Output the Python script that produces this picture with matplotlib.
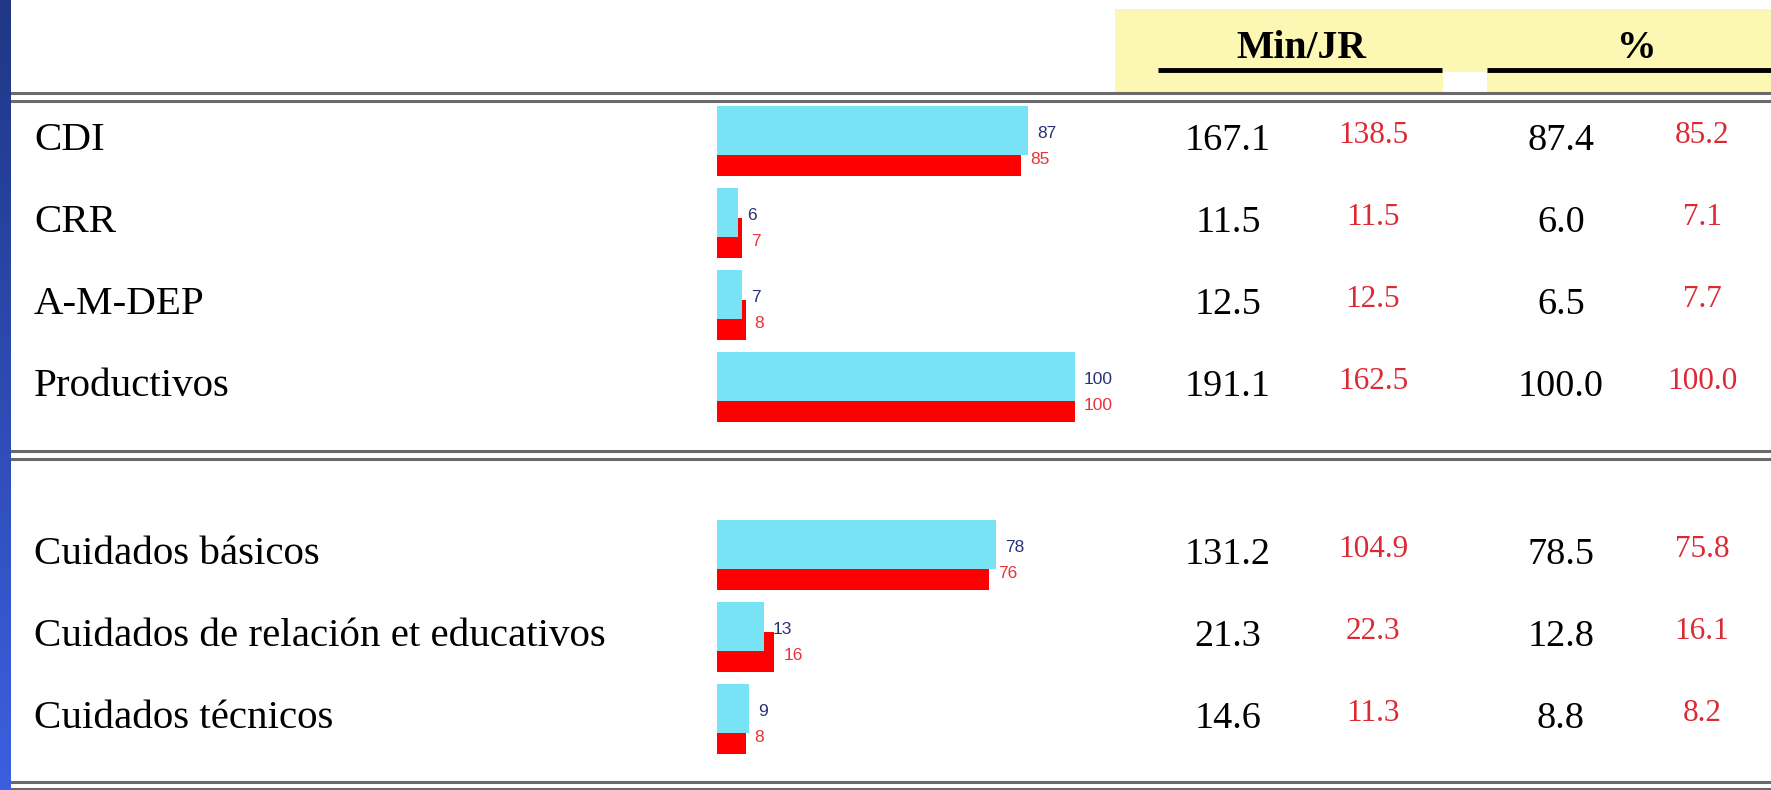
import numpy as np
import matplotlib
matplotlib.use('Agg')
import matplotlib.pyplot as plt
from matplotlib.patches import Rectangle

# data
categories = ['CDI', 'CRR', 'A-M-DEP', 'Productivos',
              'Cuidados básicos', 'Cuidados de relación et educativos', 'Cuidados técnicos']
bar_blue = [87, 6, 7, 100, 78, 13, 9]
bar_red = [85, 7, 8, 100, 76, 16, 8]
min_blue = [167.1, 11.5, 12.5, 191.1, 131.2, 21.3, 14.6]
min_red = [138.5, 11.5, 12.5, 162.5, 104.9, 22.3, 11.3]
pct_blue = [87.4, 6.0, 6.5, 100.0, 78.5, 12.8, 8.8]
pct_red = [85.2, 7.1, 7.7, 100.0, 75.8, 16.1, 8.2]

# layout (pixels of the 1771x790 canvas)
W, H = 1771, 790
rows = [137, 219, 301, 383, 551, 633, 715]
serif = 'Liberation Serif'
sans = 'Liberation Sans'
cyan = '#78e3f5'
red = '#ff0000'
num_red = '#dc2a35'

fig = plt.figure(figsize=(W / 100, H / 100), dpi=100)
fig.patch.set_facecolor('white')

ax = fig.add_axes([0, 0, 1, 1])
ax.set_xlim(0, W)
ax.set_ylim(H, 0)
ax.axis('off')

# blue strip on the left
grad = np.linspace(0, 1, 256).reshape(-1, 1)
cmap = matplotlib.colors.LinearSegmentedColormap.from_list('strip', ['#1f3785', '#3c5fe0'])
ax.imshow(grad, cmap=cmap, extent=[0, 11, H, 0], aspect='auto', zorder=5)

# yellow header box
ax.add_patch(Rectangle((1115, 9), W - 1115, 84, color='#fcf8b4', zorder=1, lw=0))
ax.add_patch(Rectangle((1443, 72), 44, 21, color='white', zorder=1, lw=0))
ax.text(1301, 58, 'Min/JR', family=serif, fontsize=28.5, fontweight='bold', ha='center', va='baseline', zorder=3)
ax.text(1637, 58, '%', family=serif, fontsize=28.5, fontweight='bold', ha='center', va='baseline', zorder=3)
ax.plot([1158, 1442], [70, 70], color='black', lw=3.5, solid_capstyle='butt', zorder=3)
ax.plot([1487, W], [70, 70], color='black', lw=3.5, solid_capstyle='butt', zorder=3)

# double rules
for y in [93, 101, 451, 459, 782, 789]:
    ax.plot([12, W], [y, y], color='#6a6a6a', lw=2.2, zorder=2)

# labels and table numbers
for i, c in enumerate(rows):
    ax.text(34, c + 13, categories[i], family=serif, fontsize=29.5, ha='left', va='baseline')
    ax.text(1228, c + 13, f'{min_blue[i]:.1f}', family=serif, fontsize=27.5, ha='center', va='baseline')
    ax.text(1373, c + 6, f'{min_red[i]:.1f}', family=serif, fontsize=22.5, ha='center', va='baseline', color=num_red)
    ax.text(1561, c + 13, f'{pct_blue[i]:.1f}', family=serif, fontsize=27.5, ha='center', va='baseline')
    ax.text(1702, c + 6, f'{pct_red[i]:.1f}', family=serif, fontsize=22.5, ha='center', va='baseline', color=num_red)

# bars
bx = fig.add_axes([717 / W, 0, (1075 - 717) / W, 1])
bx.set_xlim(0, 100)
bx.set_ylim(H, 0)
bx.axis('off')
bx.patch.set_alpha(0)
rows_arr = np.array(rows)
bx.barh(rows_arr + 19, bar_red, height=40, color=red, zorder=2)
bx.barh(rows_arr - 6.5, bar_blue, height=49, color=cyan, zorder=3)
for i, c in enumerate(rows):
    bx.text(bar_blue[i] + 2.5, c - 3, str(bar_blue[i]), family=sans, fontsize=12.5,
            color='#2b2f7a', ha='left', va='center', clip_on=False)
    bx.text(bar_red[i] + 2.5, c + 22, str(bar_red[i]), family=sans, fontsize=12.5,
            color='#e8333a', ha='left', va='center', clip_on=False)

fig.savefig('out.png', dpi=100)
